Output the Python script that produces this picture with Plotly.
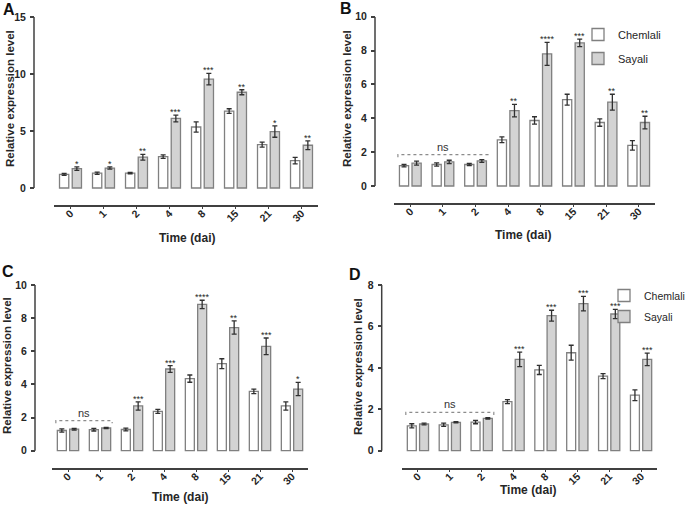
import plotly.graph_objects as go

W, H = 685, 506

DAYS = ['0', '1', '2', '4', '8', '15', '21', '30']
SERIES = ['Chemlali', 'Sayali']

# Panel A
A_chem = [1.2, 1.3, 1.3, 2.75, 5.35, 6.75, 3.8, 2.4]
A_chem_err = [0.08, 0.1, 0.06, 0.15, 0.45, 0.2, 0.22, 0.28]
A_say = [1.7, 1.75, 2.7, 6.1, 9.55, 8.4, 4.95, 3.75]
A_say_err = [0.15, 0.1, 0.25, 0.3, 0.5, 0.22, 0.5, 0.38]
A_sig = ['*', '*', '**', '***', '***', '**', '*', '**']
A_ns = None

# Panel B
B_chem = [1.2, 1.27, 1.27, 2.73, 3.87, 5.1, 3.75, 2.4]
B_chem_err = [0.07, 0.1, 0.06, 0.17, 0.22, 0.32, 0.22, 0.28]
B_say = [1.35, 1.42, 1.48, 4.45, 7.8, 8.45, 4.95, 3.75]
B_say_err = [0.12, 0.1, 0.08, 0.37, 0.68, 0.22, 0.47, 0.37]
B_sig = ['', '', '', '**', '****', '***', '**', '**']
B_ns = (0, 2, 1.85)

# Panel C
C_chem = [1.22, 1.27, 1.28, 2.37, 4.35, 5.25, 3.58, 2.7]
C_chem_err = [0.1, 0.08, 0.08, 0.12, 0.22, 0.3, 0.14, 0.25]
C_say = [1.3, 1.37, 2.7, 4.93, 8.83, 7.43, 6.3, 3.72]
C_say_err = [0.05, 0.04, 0.25, 0.2, 0.25, 0.4, 0.5, 0.4]
C_sig = ['', '', '***', '***', '****', '**', '***', '*']
C_ns = (0, 1, 1.81)

# Panel D
D_chem = [1.2, 1.25, 1.38, 2.37, 3.9, 4.73, 3.6, 2.68]
D_chem_err = [0.1, 0.08, 0.08, 0.1, 0.22, 0.36, 0.12, 0.26]
D_say = [1.29, 1.37, 1.56, 4.41, 6.52, 7.1, 6.6, 4.41]
D_say_err = [0.04, 0.03, 0.03, 0.35, 0.26, 0.35, 0.22, 0.3]
D_sig = ['', '', '', '***', '***', '***', '***', '***']
D_ns = (0, 2, 1.85)

DATA = {
    'A': (A_chem, A_chem_err, A_say, A_say_err, A_sig, A_ns),
    'B': (B_chem, B_chem_err, B_say, B_say_err, B_sig, B_ns),
    'C': (C_chem, C_chem_err, C_say, C_say_err, C_sig, C_ns),
    'D': (D_chem, D_chem_err, D_say, D_say_err, D_sig, D_ns),
}

# layout geometry (pixels)
PANELS = [
    dict(key='A', n='', xdom=(54, 318), yax_x=34, y0=188, ytop_px=17, ytop=15, ax_px=205, dtick=5,
         lab=(9, 9), yt=(10, 99), xt=(187, 238), legend=None),
    dict(key='B', n='2', xdom=(394, 655), yax_x=375, y0=186, ytop_px=16.7, ytop=10, ax_px=203, dtick=2,
         lab=(346, 8), yt=(347, 99), xt=(523, 235), legend='legend'),
    dict(key='C', n='3', xdom=(52, 308), yax_x=35, y0=450.7, ytop_px=285, ytop=10, ax_px=468, dtick=2,
         lab=(8, 271), yt=(7, 366), xt=(180, 497), legend=None),
    dict(key='D', n='4', xdom=(402, 657), yax_x=381.7, y0=450.7, ytop_px=285, ytop=8, ax_px=468, dtick=2,
         lab=(355, 274), yt=(358, 367), xt=(528, 490), legend='legend2'),
]

BARGAP = 0.23
BARGROUPGAP = 0.27
SLOT = (1 - BARGAP) / 2

FONT = 'Liberation Sans, Arial, sans-serif'
TXT = '#262626'
EDGE = '#808080'
FILLS = ['#ffffff', '#d3d3d3']
AXC = '#404040'


def px(x):
    return x / W


def py(y):
    return 1 - y / H


fig = go.Figure()
layout = dict(
    width=W, height=H, margin=dict(l=0, r=0, t=0, b=0, autoexpand=False),
    paper_bgcolor='white', plot_bgcolor='white',
    barmode='group', bargap=BARGAP, bargroupgap=BARGROUPGAP,
    font=dict(family=FONT, color=TXT),
    showlegend=True,
)
shapes = []
annotations = []
xs = list(range(len(DAYS)))

for p in PANELS:
    k, n = p['key'], p['n']
    chem, chem_e, say, say_e, sig, ns = DATA[k]
    ppu = (p['y0'] - p['ytop_px']) / p['ytop']
    ymin = -(p['ax_px'] - p['y0']) / ppu
    xa, ya = 'x' + n, 'y' + n
    for si, (vals, errs) in enumerate([(chem, chem_e), (say, say_e)]):
        fig.add_trace(go.Bar(
            x=xs, y=vals, name=SERIES[si], xaxis=xa, yaxis=ya,
            marker=dict(color=FILLS[si], line=dict(color=EDGE, width=1.3)),
            error_y=dict(type='data', array=errs, visible=True, color='#303030', thickness=1.3, width=2.5),
            showlegend=p['legend'] is not None,
            legend=p['legend'] if p['legend'] else 'legend',
            legendgroup=k + SERIES[si],
        ))
    layout['xaxis' + n] = dict(
        domain=[px(p['xdom'][0]), px(p['xdom'][1])], anchor=ya, range=[-0.5, len(DAYS) - 0.5],
        tickvals=xs, ticktext=DAYS, tickangle=-45, showline=True, linecolor=AXC, linewidth=1.5,
        ticks='outside', ticklen=2.5, tickcolor=AXC, tickwidth=1.2, showgrid=False, zeroline=False,
        ticklabelstandoff=-6, automargin=False,
        tickfont=dict(size=10.5, weight='bold', color=TXT, family=FONT), fixedrange=True,
    )
    layout['yaxis' + n] = dict(
        domain=[py(p['ax_px']), py(p['ytop_px'])], range=[ymin, p['ytop']], anchor='free',
        position=px(p['yax_x']), tickvals=list(range(0, p['ytop'] + 1, p['dtick'])),
        ticks='outside', ticklen=4, tickcolor=AXC, tickwidth=1.5, showline=False,
        showgrid=False, zeroline=False, ticklabelstandoff=2, automargin=False,
        tickfont=dict(size=10.5, weight='bold', color=TXT, family=FONT), fixedrange=True,
    )
    # y axis line only spanning data range
    shapes.append(dict(type='line', xref='paper', yref=ya, x0=px(p['yax_x']), x1=px(p['yax_x']),
                       y0=0, y1=p['ytop'], line=dict(color=AXC, width=1.5)))
    # significance stars
    for i, s in enumerate(sig):
        if s:
            annotations.append(dict(x=i + SLOT / 2, y=say[i] + say_e[i], xref=xa, yref=ya, text=s,
                                    showarrow=False, yanchor='bottom', yshift=-4,
                                    font=dict(size=9, color=TXT)))
    # ns bracket
    if ns:
        a, b, yv = ns
        pad = 0.38
        tick = 2.5 / ppu
        shapes.append(dict(type='path', xref=xa, yref=ya,
                           path=f'M {a - pad},{yv - tick} L {a - pad},{yv} L {b + pad},{yv} L {b + pad},{yv - tick}',
                           line=dict(color='#8c8c8c', width=1.2, dash='dot')))
        annotations.append(dict(x=(a + b) / 2, y=yv, xref=xa, yref=ya, text='ns', showarrow=False,
                                yanchor='bottom', yshift=0, font=dict(size=11, color='#333333')))
    # panel letter
    annotations.append(dict(x=px(p['lab'][0]), y=py(p['lab'][1]), xref='paper', yref='paper', text=k,
                            showarrow=False, xanchor='center', yanchor='middle',
                            font=dict(size=16, weight='bold', color='#111111')))
    # axis titles
    annotations.append(dict(x=px(p['yt'][0]), y=py(p['yt'][1]), xref='paper', yref='paper',
                            text='Relative expression level', textangle=-90, showarrow=False,
                            xanchor='center', yanchor='middle',
                            font=dict(size=11.5, weight='bold', color=TXT)))
    annotations.append(dict(x=px(p['xt'][0]), y=py(p['xt'][1]), xref='paper', yref='paper',
                            text='Time (dai)', showarrow=False, xanchor='center', yanchor='middle',
                            font=dict(size=12, weight='bold', color=TXT)))

legend_common = dict(bgcolor='rgba(0,0,0,0)', borderwidth=0,
                     xanchor='left', yanchor='top', traceorder='grouped')
layout['legend'] = dict(x=px(578), y=py(20), tracegroupgap=5,
                        font=dict(size=11, color=TXT, family=FONT), **legend_common)
layout['legend2'] = dict(x=px(604), y=py(281), tracegroupgap=2,
                         font=dict(size=10.5, color=TXT, family=FONT), **legend_common)
layout['shapes'] = shapes
layout['annotations'] = annotations
fig.update_layout(**layout)

fig.write_html('out.html', config={'displayModeBar': False},
               post_script="document.body.style.margin='0';document.body.style.overflow='hidden';")
